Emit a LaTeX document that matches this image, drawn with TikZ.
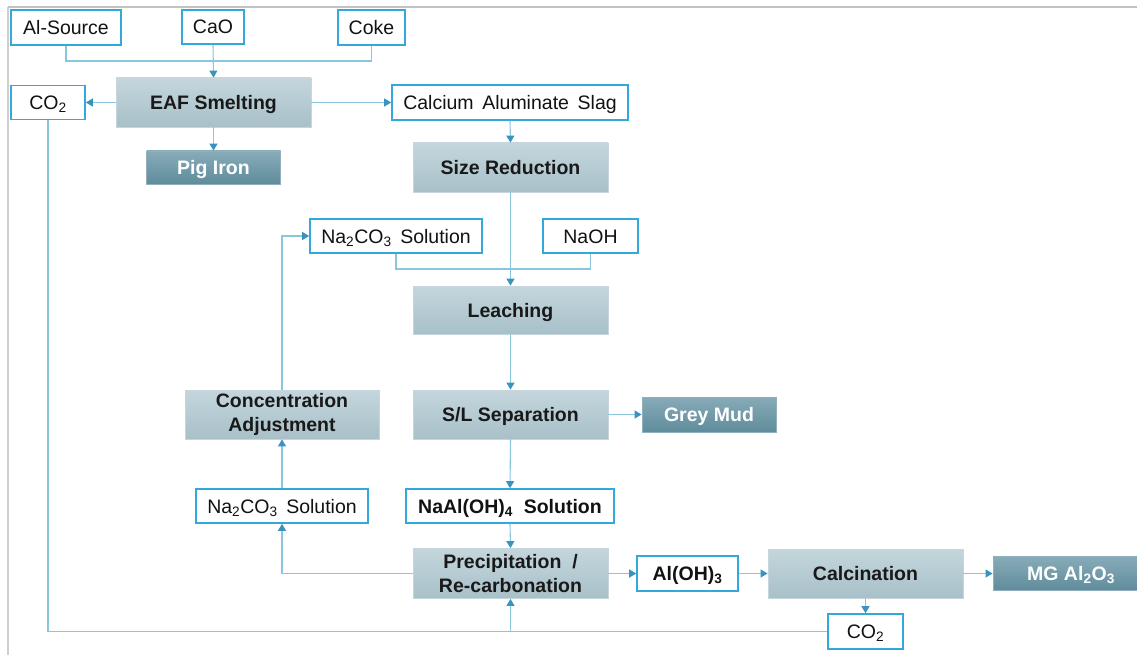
\documentclass[tikz,border=0pt]{standalone}
\usepackage{fontspec}
\setmainfont{Liberation Sans}
\usetikzlibrary{arrows.meta}
\definecolor{boxblue}{HTML}{33A8DD}
\definecolor{lineblue}{HTML}{8AC6DD}
\definecolor{arrowblue}{HTML}{3A93BF}
\definecolor{ptop}{HTML}{C4D6DC}
\definecolor{pbot}{HTML}{A8C0C9}
\definecolor{pborder}{HTML}{C6D6DC}
\definecolor{dtop}{HTML}{88ABB8}
\definecolor{dbot}{HTML}{5F8C9B}
\definecolor{dborder}{HTML}{8FB0BC}
\definecolor{frame}{HTML}{C2C2C2}
\newcommand{\dsub}[1]{\textsubscript{#1}}
\begin{document}
\begin{tikzpicture}[x=1pt,y=-1pt,
  sz/.style 2 args={minimum width=#1pt, minimum height=#2pt},
  capc/.style={text height=14pt, text depth=0pt},
  lbox/.style={draw=boxblue, line width=1.6pt, fill=white, inner sep=0pt, capc,
    text=black!93, font=\fontsize{19.5}{23}\selectfont},
  lboxb/.style={lbox, font=\bfseries\fontsize{19.5}{23}\selectfont},
  pbase/.style={draw=pborder, line width=0.8pt, top color=ptop, bottom color=pbot,
    inner sep=0pt, align=center, text=black!90,
    font=\bfseries\fontsize{19.5}{24.5}\selectfont},
  pbox/.style={pbase, capc},
  dbox/.style={draw=dborder, line width=0.8pt, top color=dtop, bottom color=dbot,
    inner sep=0pt, text=white, capc,
    font=\bfseries\fontsize{19.5}{23}\selectfont},
  conn/.style={draw=lineblue, line width=1.1pt},
  arr/.style={conn, -{Triangle[width=8pt,length=7pt,color=arrowblue]}}
]
\useasboundingbox (0,0) rectangle (1137,655);
% frame
\draw[frame, line width=2.5pt] (8,7) -- (1137,7);
\draw[frame!80, line width=1.5pt] (8,7) -- (8,655);

% nodes
\node[lbox, sz={110}{35}] (alsrc) at (66,27.5) {Al-Source};
\node[lbox, sz={62}{34}] (cao) at (213,27) {CaO};
\node[lbox, sz={67}{35}] (coke) at (371.5,27.5) {Coke};
\node[pbox, sz={195}{49}] (eaf) at (213.5,102.5) {EAF Smelting};
\node[lbox, sz={74}{34}] (co2a) at (48,102.5) {CO\dsub{2}};
\node[dbox, sz={134}{33}] (pig) at (213.5,167.5) {Pig Iron};
\node[lbox, sz={236}{35}] (slag) at (510,102.5) {Calcium\ \,Aluminate\ \,Slag};
\node[pbox, sz={195}{49}] (size) at (510.5,167.5) {Size Reduction};
\node[lbox, sz={172}{34}] (na2a) at (396,236) {Na\dsub{2}CO\dsub{3}\ \,Solution};
\node[lbox, sz={95}{34}] (naoh) at (590.5,236) {NaOH};
\node[pbox, sz={195}{48}] (leach) at (510.5,310) {Leaching};
\node[pbase, sz={194}{49}] (conc) at (282,414.5) {Concentration\\Adjustment};
\node[pbox, sz={195}{49}] (slsep) at (510.5,414.5) {S/L Separation};
\node[dbox, sz={134}{35}] (grey) at (709,414.5) {Grey Mud};
\node[lbox, sz={172}{34}] (na2b) at (282,506) {Na\dsub{2}CO\dsub{3}\ \,Solution};
\node[lboxb, sz={208}{34}] (naal) at (510,506) {NaAl(OH)\dsub{4}\ \ Solution};
\node[pbase, sz={195}{50}] (precip) at (510.5,573.5) {Precipitation\ \ /\\Re-carbonation};
\node[lboxb, sz={101}{35}] (aloh) at (687.5,573.5) {Al(OH)\dsub{3}};
\node[pbox, sz={195}{49}] (calc) at (865.5,573.5) {Calcination};
\node[dbox, sz={156}{34}] (mg) at (1071,573.5) {MG Al\dsub{2}O\dsub{3}};
\node[lbox, sz={75}{35}] (co2b) at (865.5,631.5) {CO\dsub{2}};

% helper coordinates
\coordinate (j1) at (66,61);
\coordinate (j2) at (371.5,61);
\coordinate (j3) at (396,269);
\coordinate (j4) at (590.5,269);
\coordinate (fb1) at (282,236);
\coordinate (pl) at (282,573.5);
\coordinate (b1) at (48,631.5);
\coordinate (b2) at (510.5,631.5);

% connectors
\draw[conn] (alsrc.south) -- (j1) -- (j2) -- (coke.south);
\draw[arr] (cao.south) -- (eaf.north);
\draw[arr] (eaf.west) -- (co2a.east);
\draw[arr] (eaf.east) -- (slag.west);
\draw[arr] (eaf.south) -- (pig.north);
\draw[arr] (slag.south) -- (size.north);
\draw[arr] (size.south) -- (leach.north);
\draw[conn] (na2a.south) -- (j3) -- (j4) -- (naoh.south);
\draw[arr] (leach.south) -- (slsep.north);
\draw[arr] (slsep.east) -- (grey.west);
\draw[arr] (slsep.south) -- (naal.north);
\draw[arr] (naal.south) -- (precip.north);
\draw[arr] (precip.east) -- (aloh.west);
\draw[arr] (aloh.east) -- (calc.west);
\draw[arr] (calc.east) -- (mg.west);
\draw[arr] (calc.south) -- (co2b.north);
\draw[arr] (precip.west) -- (pl) -- (na2b.south);
\draw[arr] (na2b.north) -- (conc.south);
\draw[arr] (conc.north) -- (fb1) -- (na2a.west);
\draw[conn] (co2a.south) -- (b1) -- (co2b.west);
\draw[arr] (b2) -- (precip.south);
\end{tikzpicture}
\end{document}
